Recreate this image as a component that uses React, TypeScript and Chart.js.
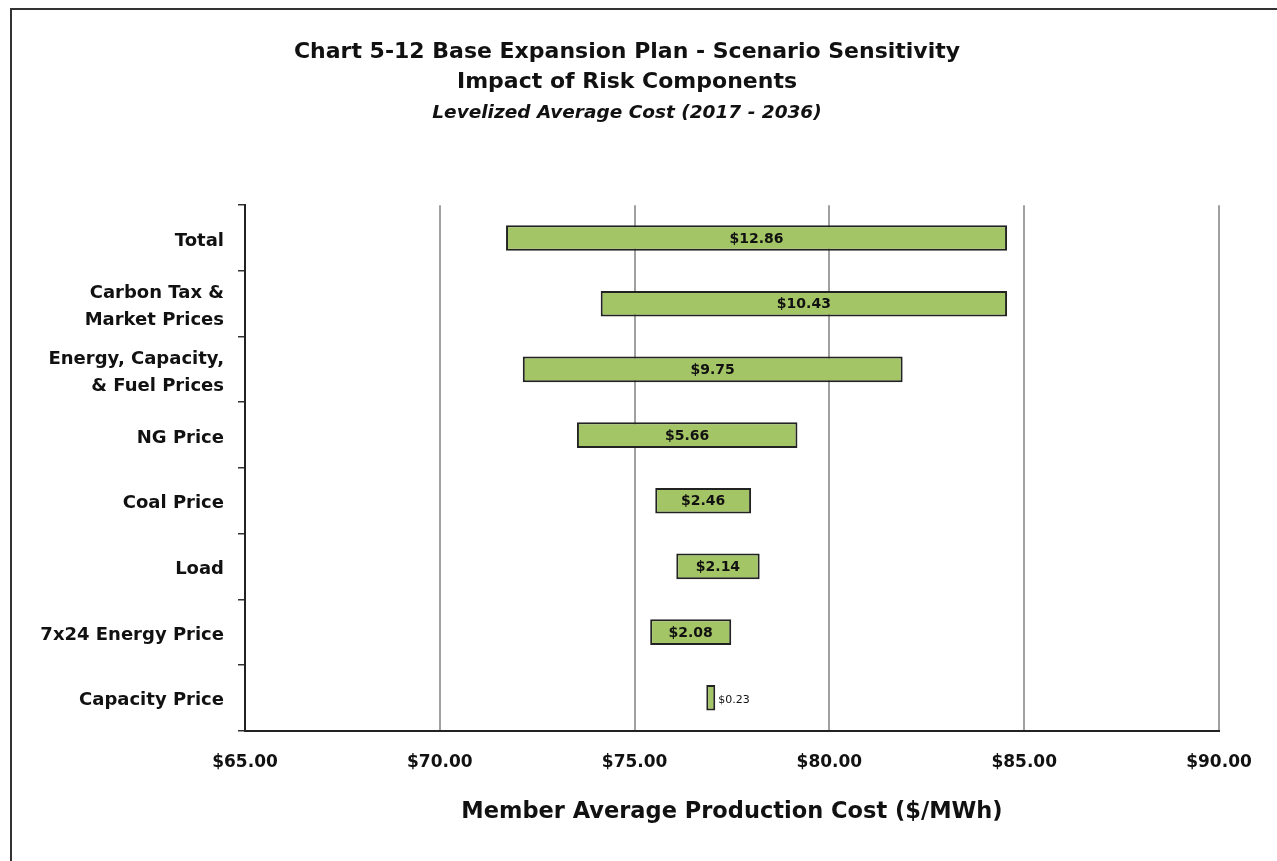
import React, { useEffect, useRef } from "react";
import { Chart, registerables } from "chart.js";

Chart.register(...registerables);

const categories: (string | string[])[] = [
  "Total",
  ["Carbon Tax &", "Market Prices"],
  ["Energy, Capacity,", "& Fuel Prices"],
  "NG Price",
  "Coal Price",
  "Load",
  "7x24 Energy Price",
  "Capacity Price",
];
const lowValues = [71.7, 74.13, 72.13, 73.52, 75.53, 76.07, 75.4, 76.84];
const highValues = [84.56, 84.56, 81.88, 79.18, 77.99, 78.21, 77.48, 77.07];
const xTicks = [65, 70, 75, 80, 85, 90];

const titleLines = [
  "Chart 5-12 Base Expansion Plan - Scenario Sensitivity",
  "Impact of Risk Components",
];
const subtitleText = "Levelized Average Cost (2017 - 2036)";
const xAxisTitle = "Member Average Production Cost ($/MWh)";

const FONT = "'DejaVu Sans', sans-serif";

const barLabelPlugin = {
  id: "barLabels",
  afterDatasetsDraw(chart: any) {
    const ctx = chart.ctx;
    const meta = chart.getDatasetMeta(0);
    const ds = chart.data.datasets[0];
    meta.data.forEach((bar: any, i: number) => {
      const [lo, hi] = ds.data[i] as number[];
      const text = "$" + (hi - lo).toFixed(2);
      const left = Math.min(bar.x, bar.base);
      const right = Math.max(bar.x, bar.base);
      ctx.save();
      ctx.fillStyle = "#111";
      ctx.textBaseline = "middle";
      ctx.font = `bold 14px ${FONT}`;
      const w = ctx.measureText(text).width;
      if (w + 6 < right - left) {
        ctx.textAlign = "center";
        ctx.fillText(text, (left + right) / 2, bar.y + 1);
      } else {
        ctx.font = `11px ${FONT}`;
        ctx.textAlign = "left";
        ctx.fillText(text, right + 3, bar.y + 2);
      }
      ctx.restore();
    });
  },
};

export default function App() {
  const ref = useRef<HTMLCanvasElement | null>(null);
  useEffect(() => {
    if (!ref.current) return;
    const chart = new Chart(ref.current, {
      type: "bar",
      data: {
        labels: categories,
        datasets: [
          {
            data: lowValues.map((lo, i) => [lo, highValues[i]]),
            backgroundColor: "#a4c566",
            borderColor: "#222",
            borderWidth: 2,
            borderSkipped: false,
            categoryPercentage: 1,
            barPercentage: 0.39,
          },
        ],
      },
      options: {
        indexAxis: "y",
        animation: false,
        responsive: false,
        maintainAspectRatio: false,
        layout: { padding: { left: 35, right: 58, top: 10, bottom: 35.5 } },
        plugins: {
          legend: { display: false },
          tooltip: { enabled: false },
          title: {
            display: true,
            text: titleLines,
            color: "#111",
            font: { family: FONT, size: 22, weight: "bold", lineHeight: 1.364 },
            padding: { top: 27, bottom: 0 },
          },
          subtitle: {
            display: true,
            text: subtitleText,
            color: "#111",
            font: { family: FONT, size: 18.5, style: "italic", weight: "bold", lineHeight: 1.2 },
            padding: { top: 5, bottom: 81 },
          },
        },
        scales: {
          x: {
            type: "linear",
            min: 65,
            max: 90,
            afterBuildTicks(scale: any) {
              scale.ticks = xTicks.map((v) => ({ value: v }));
            },
            ticks: {
              color: "#111",
              font: { family: FONT, size: 17, weight: "bold" },
              padding: 22,
              callback: (v: any) => "$" + Number(v).toFixed(2),
            },
            grid: { color: "#a0a0a0", lineWidth: 2, drawTicks: false },
            border: { color: "#222", width: 2 },
            title: {
              display: true,
              text: xAxisTitle,
              color: "#111",
              font: { family: FONT, size: 22.5, weight: "bold" },
              padding: { top: 3.5, bottom: 0 },
            },
          },
          y: {
            type: "category",
            afterFit(scale: any) {
              scale.width = 210;
            },
            ticks: {
              color: "#111",
              font: { family: FONT, size: 18, weight: "bold", lineHeight: 1.5 },
              padding: 14,
              labelOffset: 3,
            },
            grid: {
              offset: true,
              drawOnChartArea: false,
              drawTicks: true,
              tickLength: 7,
              color: "#333",
              lineWidth: 1.5,
            },
            border: { color: "#222", width: 2 },
          },
        },
      },
      plugins: [barLabelPlugin],
    });
    return () => chart.destroy();
  }, []);

  return (
    <div style={{ position: "fixed", left: 0, top: 0, width: 1277, height: 861, overflow: "hidden", background: "#fff" }}>
      <div
        style={{
          position: "absolute",
          left: 10,
          top: 8,
          width: 1400,
          height: 1000,
          border: "2px solid #333",
          boxSizing: "border-box",
        }}
      />
      <canvas ref={ref} width={1277} height={861} style={{ position: "absolute", left: 0, top: 0, width: 1277, height: 861 }} />
    </div>
  );
}
